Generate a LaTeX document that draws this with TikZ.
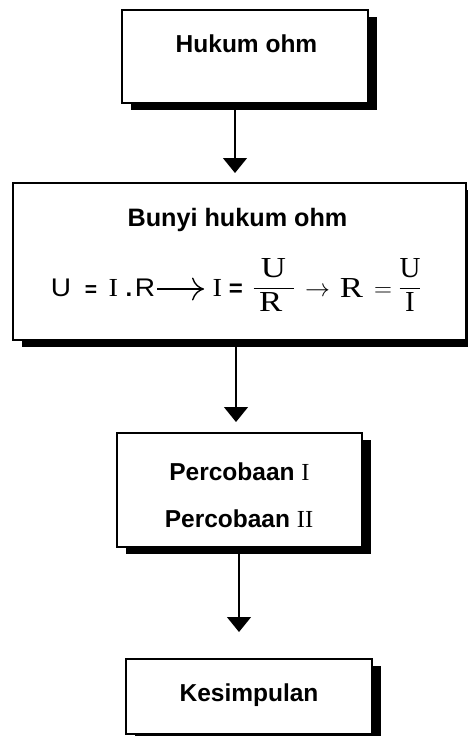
\documentclass[tikz,border=0pt]{standalone}
\usepackage{graphicx}
\usepackage{fontspec}
\setmainfont{Liberation Serif}
\setsansfont{Liberation Sans}
\usetikzlibrary{arrows.meta,shadows}

% horizontally widened glyphs of the formula
\newcommand{\wideby}[2]{\scalebox{#1}[1]{#2}}

\begin{document}
\begin{tikzpicture}[x=1pt,y=-1pt,
  box/.style={draw=black, line width=1.1pt, fill=white, anchor=north west,
    inner sep=0pt, outer sep=0pt,
    drop shadow={shadow xshift=9pt, shadow yshift=-7pt, opacity=1, fill=black}},
  arr/.style={line width=1.2pt, -{Triangle[width=24pt,length=15pt]}},
  lbl/.style={font=\fontsize{24.5}{29}\selectfont\sffamily\bfseries,
    anchor=base, inner sep=0pt},
  fm/.style={anchor=base, inner sep=0pt},
  fsans/.style={fm, font=\fontsize{25.5}{30}\selectfont\sffamily},
  fsansb/.style={fm, font=\fontsize{24}{28}\selectfont\sffamily\bfseries},
  fserif/.style={fm, font=\fontsize{26}{31}\selectfont\rmfamily},
  fmath/.style={fm, font=\fontsize{29}{34}\selectfont\rmfamily},
]
\useasboundingbox (0,0) rectangle (467,736);

% boxes with hard black shadows
\node[box, minimum width=246pt, minimum height=93pt]  (b1) at (122,10)  {};
\node[box, minimum width=453pt, minimum height=157pt] (b2) at (13,183)  {};
\node[box, minimum width=245pt, minimum height=114pt] (b3) at (117,433) {};
\node[box, minimum width=246pt, minimum height=75pt]  (b4) at (126,659) {};

% titles
\node[lbl] (hukum) at (246.5,52) {Hukum ohm};
\node[lbl, font=\fontsize{25.2}{30}\selectfont\sffamily\bfseries] (bunyi) at (237.5,226) {Bunyi hukum ohm};
\node[lbl] (perc1) at (239.5,480) {Percobaan {\mdseries\rmfamily I}};
\node[lbl] (perc2) at (239,527) {Percobaan {\mdseries\rmfamily II}};
\node[lbl] (kesim) at (249,701) {Kesimpulan};

% Ohm's law, U = I.R -> I = U/R -> R = U/I
\node[fsans]  (fU)   at (61,296.5)    {\wideby{1.1}{U}};
\node[fsansb, font=\fontsize{21}{25}\selectfont\sffamily\bfseries] (feq1) at (91,296.5) {=};
\node[fserif] (fI1)  at (113.5,296.5) {\wideby{1.1}{I}};
\node[fsansb] (fdot) at (129,296.5)   {.};
\node[fsans]  (fR1)  at (145,296.5)   {\wideby{1.1}{R}};
\coordinate (la1) at (157,289);
\coordinate (la2) at (204,289);
\draw[line width=1.4pt,
  -{Computer Modern Rightarrow[width=23pt,length=12pt,line width=1.4pt]}]
  (la1) -- (la2);
\node[fserif] (fI2)  at (217.5,296.5) {\wideby{1.1}{I}};
\node[fsansb] (feq2) at (236,296.5)   {=};
\node[fmath]  (ffr1) at (273.5,294.25)
  {$\displaystyle\frac{\makebox[40pt]{\wideby{1.2}{$\mathrm{U}$}}}{\wideby{1.2}{$\mathrm{R}$}}$};
\node[fmath]  (farr2) at (317.5,296.25) {$\rightarrow$};
\node[fmath]  (fR2)  at (351.5,297)   {\wideby{1.2}{$\mathrm{R}$}};
\node[fmath]  (feq3) at (383,296.25)  {$=$};
\node[fmath]  (ffr2) at (410,294.25)
  {$\displaystyle\frac{\mathrm{U}}{\mathrm{I}}$};

% connectors
\coordinate (tip1) at (235,173);
\coordinate (tip2) at (236,422);
\coordinate (tip3) at (239,632);
\draw[arr] (b1.south -| tip1) -- (tip1);
\draw[arr] (b2.south -| tip2) -- (tip2);
\draw[arr] (b3.south -| tip3) -- (tip3);
\end{tikzpicture}
\end{document}
